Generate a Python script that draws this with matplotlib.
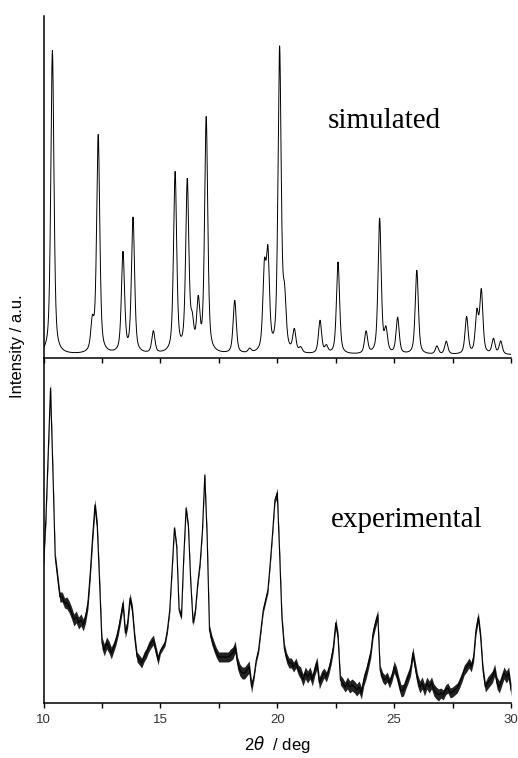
import numpy as np
import matplotlib.pyplot as plt
from matplotlib.ticker import MultipleLocator, FuncFormatter

plt.rcParams['font.family'] = ['Liberation Sans', 'DejaVu Sans']

# simulated pattern: peak positions (2theta) and apparent heights
sim_pos = [10.38, 12.09, 12.34, 13.40, 13.83, 14.70, 15.63, 16.15, 16.36, 16.62,
           16.96, 18.18, 18.82, 19.45, 19.60, 20.10, 20.31, 20.73, 21.00, 21.83,
           22.10, 22.60, 23.80, 24.38, 24.65, 25.15, 25.97, 26.83, 27.23, 28.10,
           28.54, 28.73, 29.25, 29.56]
sim_height = [304, 28, 218, 100, 135, 22, 180, 170, 25, 48,
              235, 53, 4, 78, 92, 303, 48, 22, 5, 33,
              7, 92, 22, 135, 22, 36, 84, 8, 13, 37,
              40, 62, 15, 13]
sim_fwhm = 0.16

# experimental pattern, read every 0.1 deg from 10 to 30
exp_2theta = np.round(np.arange(10.0, 30.05, 0.1), 1)
exp_counts = [
    140, 183, 250, 315, 233, 146, 126, 106, 106, 100,
    100, 96, 90, 83, 86, 80, 83, 78, 86, 100,
    130, 166, 198, 176, 120, 60, 53, 60, 56, 50,
    56, 63, 73, 86, 100, 70, 80, 105, 93, 66,
    46, 43, 40, 46, 50, 56, 60, 63, 53, 43,
    52, 56, 60, 73, 93, 133, 175, 156, 93, 86,
    146, 195, 176, 120, 80, 93, 120, 140, 173, 228,
    166, 73, 63, 56, 50, 46, 46, 46, 46, 46,
    48, 50, 56, 40, 33, 30, 30, 33, 36, 16,
    26, 43, 53, 73, 93, 103, 113, 140, 170, 203,
    210, 150, 85, 55, 45, 40, 40, 36, 40, 33,
    30, 23, 30, 26, 30, 23, 33, 40, 20, 26,
    30, 26, 33, 43, 56, 80, 66, 23, 20, 16,
    20, 16, 18, 16, 13, 16, 10, 23, 30, 40,
    50, 70, 80, 88, 33, 26, 23, 26, 20, 26,
    36, 30, 20, 12, 13, 20, 26, 33, 50, 36,
    23, 16, 20, 13, 20, 16, 20, 13, 10, 8,
    10, 8, 13, 15, 10, 11, 13, 15, 20, 26,
    33, 36, 40, 36, 46, 73, 86, 66, 33, 16,
    20, 23, 26, 33, 20, 16, 23, 30, 26, 30,
    13,
]
# local thickness of the noise band, one value per degree (10..29)
exp_noise = [10, 12, 12, 10, 10, 6, 6, 10, 12, 6,
             10, 12, 10, 12, 10, 12, 12, 10, 10, 12]

xs = np.linspace(10, 30, 4001)
sim = np.full_like(xs, 3.0)
g = sim_fwhm / 2
for p, h in zip(sim_pos, sim_height):
    lor = g**2 / ((xs - p)**2 + g**2)
    gau = np.exp(-np.log(2) * ((xs - p) / g)**2)
    sim += h * (0.55 * lor + 0.45 * gau)

exp_y = np.array(exp_counts, dtype=float)
band = np.append(np.repeat(exp_noise, 10), exp_noise[-1]) / 2

fig = plt.figure(figsize=(5.18, 7.58), dpi=100)
ax1 = fig.add_axes([0.084, 0.5277, 0.9025, 0.4512])
ax2 = fig.add_axes([0.084, 0.0726, 0.9025, 0.4551], sharex=ax1)
ax2.patch.set_visible(False)

ax1.plot(xs, sim, color='black', lw=0.7)
ax2.fill_between(exp_2theta, exp_y - band, exp_y + band, color='#222222', lw=0)
ax2.plot(exp_2theta, exp_y, color='black', lw=0.8)

ax1.set_ylim(0, 342)
ax2.set_ylim(0, 345)
ax2.set_xlim(10, 30)

for ax in (ax1, ax2):
    for s in ('top', 'right'):
        ax.spines[s].set_visible(False)
    for s in ('left', 'bottom'):
        ax.spines[s].set_linewidth(1.1)
    ax.set_yticks([])
    ax.xaxis.set_major_locator(MultipleLocator(2.5))
    ax.tick_params(axis='x', direction='out', length=3.6, width=1.0,
                   labelsize=9.5, labelcolor='#333333', pad=4)

ax2.xaxis.set_major_formatter(
    FuncFormatter(lambda v, pos: f'{v:g}' if v % 5 == 0 else ''))
ax1.tick_params(axis='x', labelbottom=False)

ax1.text(24.6, 237, 'simulated', family='Liberation Serif', fontsize=21,
         ha='center', va='center')
ax2.text(25.55, 183, 'experimental', family='Liberation Serif', fontsize=21,
         ha='center', va='center')

ax2.set_xlabel(r'2$\theta$  / deg', fontsize=12, labelpad=6)
fig.text(18 / 518, 1 - 346 / 758, 'Intensity / a.u.', rotation=90, fontsize=12,
         ha='center', va='center')

fig.savefig('out.png', dpi=100)
